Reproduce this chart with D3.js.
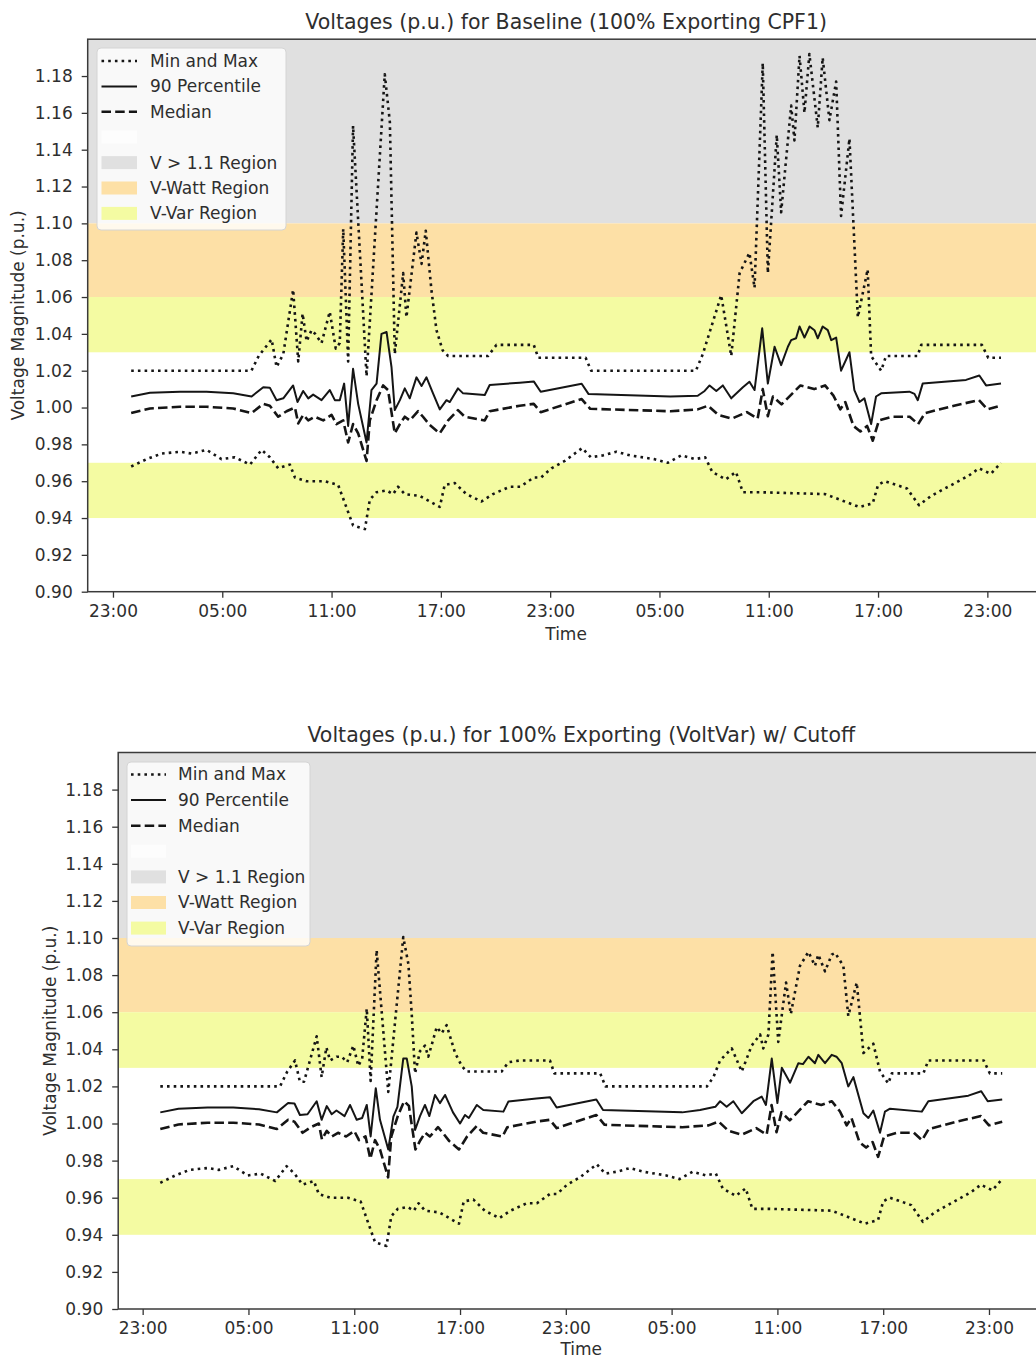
<!DOCTYPE html>
<html>
<head>
<meta charset="utf-8">
<script src="https://cdn.jsdelivr.net/npm/d3@7"></script>
<style>
  body { margin: 0; background: #fff; }
  svg { display: block; }
</style>
</head>
<body>
<svg id="chart"></svg>
<script>
// hours since midnight of day 1, voltage (p.u.)
const minV = [
  [0, 0.968], [0.85, 0.972], [1.67, 0.975], [2.68, 0.976], [3.32, 0.975], [4.14, 0.977],
  [4.96, 0.972], [5.69, 0.973], [6.52, 0.969], [7.16, 0.977], [7.61, 0.973], [8.07, 0.967],
  [8.71, 0.969], [8.99, 0.962], [9.63, 0.960], [10.63, 0.960], [11.36, 0.958], [12.18, 0.936],
  [12.83, 0.934], [13.1, 0.950], [13.47, 0.954], [14.02, 0.955], [14.38, 0.953], [14.65, 0.957],
  [15.02, 0.953], [15.84, 0.952], [16.94, 0.946], [17.21, 0.958], [17.76, 0.959], [18.4, 0.953],
  [19.23, 0.949], [19.86, 0.953], [20.78, 0.957], [21.36, 0.957], [22.1, 0.962], [22.5, 0.962],
  [23.07, 0.967], [23.8, 0.971], [24.76, 0.978], [25.23, 0.973], [25.89, 0.974], [26.64, 0.976],
  [27.39, 0.974], [28.7, 0.972], [29.45, 0.970], [30.2, 0.974], [30.95, 0.972], [31.51, 0.973],
  [31.9, 0.965], [32.64, 0.961], [33.2, 0.965], [33.58, 0.954], [34.52, 0.954], [38.09, 0.953],
  [39.97, 0.946], [40.71, 0.948], [41.0, 0.958], [41.37, 0.960], [42.0, 0.958], [42.59, 0.956],
  [43.25, 0.947], [43.91, 0.952], [44.85, 0.957], [45.98, 0.963], [46.54, 0.967], [47.19, 0.964],
  [47.75, 0.970]
];

const medianV = [
  [0, 0.997], [1.03, 0.9995], [2.68, 1.0004], [4.14, 1.0004], [5.6, 0.9995], [6.61, 0.997],
  [7.25, 1.002], [7.61, 1.001], [8.07, 0.995], [8.53, 0.998], [8.99, 1.000], [9.17, 0.9914],
  [9.44, 0.996], [9.72, 0.993], [10.08, 0.995], [10.54, 0.993], [11.0, 0.996], [11.27, 0.991],
  [11.64, 0.993], [11.91, 0.981], [12.18, 0.991], [12.46, 0.986], [12.92, 0.971], [13.1, 0.993],
  [13.47, 1.004], [13.83, 1.012], [14.1, 1.0095], [14.47, 0.986], [14.75, 0.991], [15.02, 0.995],
  [15.29, 0.993], [15.75, 0.998], [16.02, 0.995], [16.39, 0.9905], [16.94, 0.986], [17.4, 0.993],
  [17.94, 0.9986], [18.31, 0.995], [19.41, 0.993], [19.68, 0.998], [21.33, 1.001], [22.1, 1.002],
  [22.48, 0.9975], [24.73, 1.0046], [25.2, 0.9993], [29.6, 0.998], [31.1, 0.999], [31.67, 1.001],
  [32.23, 0.996], [32.98, 0.994], [33.8, 0.9975], [34.39, 0.994], [34.67, 1.010], [34.95, 0.9953],
  [35.23, 1.006], [35.7, 1.0017], [36.74, 1.012], [37.49, 1.010], [38.09, 1.012], [38.55, 1.0065],
  [38.93, 0.999], [39.2, 1.003], [39.65, 0.990], [40.03, 0.987], [40.4, 0.990], [40.71, 0.982],
  [41.05, 0.993], [41.8, 0.995], [42.74, 0.995], [43.2, 0.991], [43.58, 0.997], [45.17, 1.001],
  [46.54, 1.004], [47.0, 0.999], [47.75, 1.001]
];

const p90Baseline = [
  [0, 1.006], [1.03, 1.008], [2.68, 1.0086], [4.14, 1.0086], [5.6, 1.0077], [6.61, 1.006],
  [7.25, 1.011], [7.61, 1.0108], [7.98, 1.004], [8.35, 1.005], [8.89, 1.012], [9.13, 1.003],
  [9.44, 1.009], [9.72, 1.005], [9.99, 1.007], [10.45, 1.004], [10.9, 1.0095], [11.18, 1.004],
  [11.45, 1.004], [11.69, 1.013], [11.91, 0.990], [12.18, 1.021], [12.46, 1.002], [12.92, 0.981],
  [13.19, 1.0095], [13.47, 1.013], [13.74, 1.040], [14.02, 1.041], [14.29, 1.022], [14.47, 0.9986],
  [14.75, 1.004], [15.02, 1.0104], [15.29, 1.005], [15.66, 1.0164], [15.94, 1.0117], [16.21, 1.0164],
  [16.57, 1.0077], [16.94, 0.999], [17.31, 1.004], [17.49, 1.003], [17.94, 1.0104], [18.22, 1.0077],
  [19.41, 1.0068], [19.68, 1.0122], [21.33, 1.0135], [22.1, 1.0142], [22.48, 1.0086], [24.73, 1.0129],
  [25.11, 1.0073], [29.6, 1.006], [31.1, 1.0064], [31.48, 1.009], [31.75, 1.012], [32.12, 1.009],
  [32.48, 1.012], [32.94, 1.005], [33.58, 1.011], [33.94, 1.014], [34.22, 1.0095], [34.64, 1.043],
  [34.95, 1.013], [35.32, 1.033], [35.68, 1.023], [36.05, 1.033], [36.23, 1.0366], [36.5, 1.0376],
  [36.69, 1.044], [36.96, 1.038], [37.24, 1.044], [37.51, 1.042], [37.69, 1.0376], [37.96, 1.044],
  [38.24, 1.042], [38.43, 1.0366], [38.7, 1.038], [38.97, 1.020], [39.43, 1.030], [39.7, 1.0095],
  [39.98, 1.003], [40.25, 1.005], [40.62, 0.991], [40.89, 1.006], [41.17, 1.0077], [42.72, 1.0086],
  [43.0, 1.0074], [43.18, 1.004], [43.45, 1.013], [45.83, 1.015], [46.56, 1.0174], [46.93, 1.012],
  [47.75, 1.013]
];

const p90Cutoff = [
  [0, 1.006], [1.03, 1.008], [2.68, 1.0086], [4.14, 1.0086], [5.6, 1.0077], [6.61, 1.006],
  [7.25, 1.011], [7.61, 1.0108], [7.92, 1.0046], [8.35, 1.005], [8.87, 1.012], [9.15, 1.002],
  [9.44, 1.0094], [9.72, 1.005], [9.99, 1.007], [10.45, 1.004], [10.76, 1.010], [11.14, 1.002],
  [11.45, 1.003], [11.71, 1.010], [11.93, 0.993], [12.22, 1.019], [12.46, 1.002], [12.93, 0.986],
  [13.22, 1.0037], [13.45, 1.009], [13.78, 1.035], [13.98, 1.035], [14.26, 1.020], [14.45, 0.9965],
  [14.73, 1.004], [15.01, 1.010], [15.26, 1.004], [15.58, 1.0154], [15.86, 1.011], [16.15, 1.0154],
  [16.6, 1.006], [17.0, 1.000], [17.28, 1.0046], [17.5, 1.003], [17.95, 1.010], [18.32, 1.0073],
  [19.46, 1.0064], [19.74, 1.0118], [21.33, 1.0135], [22.1, 1.0142], [22.48, 1.0086], [24.73, 1.0129],
  [25.11, 1.0073], [29.6, 1.006], [30.61, 1.0073], [31.48, 1.009], [31.75, 1.012], [32.12, 1.009],
  [32.5, 1.012], [32.98, 1.0055], [33.64, 1.012], [34.11, 1.0145], [34.35, 1.010], [34.68, 1.035],
  [35.0, 1.011], [35.25, 1.030], [35.72, 1.022], [36.19, 1.0325], [36.45, 1.032], [36.76, 1.036],
  [37.13, 1.0325], [37.32, 1.037], [37.7, 1.0325], [38.08, 1.037], [38.35, 1.036], [38.65, 1.0325],
  [39.02, 1.020], [39.31, 1.025], [39.88, 1.0055], [40.16, 1.003], [40.44, 1.007], [40.82, 0.995],
  [41.1, 1.0064], [41.39, 1.008], [43.19, 1.0064], [43.56, 1.012], [45.83, 1.015], [46.56, 1.0174],
  [46.93, 1.012], [47.75, 1.013]
];

const maxBaseline = [
  [0, 1.020], [6.6, 1.020], [7.0, 1.028], [7.71, 1.037], [7.98, 1.022], [8.35, 1.029],
  [8.89, 1.064], [9.17, 1.025], [9.41, 1.051], [9.63, 1.036], [9.9, 1.042], [10.1, 1.040],
  [10.45, 1.035], [10.9, 1.052], [11.23, 1.032], [11.45, 1.035], [11.64, 1.097], [11.91, 1.025],
  [12.18, 1.153], [12.92, 1.017], [13.92, 1.181], [14.2, 1.155], [14.47, 1.029], [14.93, 1.073],
  [15.11, 1.049], [15.66, 1.095], [15.94, 1.078], [16.17, 1.096], [16.48, 1.064], [16.76, 1.042],
  [17.1, 1.031], [17.4, 1.028], [19.59, 1.028], [20.05, 1.034], [22.1, 1.034], [22.35, 1.027],
  [24.95, 1.027], [25.25, 1.020], [31.0, 1.020], [31.38, 1.029], [32.39, 1.061], [32.94, 1.028],
  [33.4, 1.073], [33.94, 1.084], [34.22, 1.065], [34.67, 1.187], [34.95, 1.073], [35.44, 1.148],
  [35.68, 1.106], [36.23, 1.164], [36.41, 1.145], [36.69, 1.191], [36.96, 1.160], [37.23, 1.192],
  [37.69, 1.152], [37.96, 1.190], [38.33, 1.156], [38.7, 1.177], [38.97, 1.104], [39.43, 1.146],
  [39.89, 1.049], [40.43, 1.075], [40.62, 1.028], [41.17, 1.020], [41.44, 1.028], [43.17, 1.028],
  [43.37, 1.034], [46.7, 1.034], [47.05, 1.027], [47.75, 1.027]
];

const maxCutoff = [
  [0, 1.020], [6.79, 1.020], [7.2, 1.028], [7.64, 1.034], [7.92, 1.0225], [8.15, 1.0225],
  [8.87, 1.047], [9.15, 1.025], [9.42, 1.041], [9.63, 1.034], [10.0, 1.036], [10.29, 1.036],
  [10.6, 1.033], [10.95, 1.042], [11.23, 1.031], [11.45, 1.035], [11.71, 1.062], [11.93, 1.023],
  [12.27, 1.0935], [12.93, 1.017], [13.78, 1.1005], [14.07, 1.086], [14.26, 1.059], [14.45, 1.027],
  [14.73, 1.039], [15.01, 1.042], [15.2, 1.036], [15.68, 1.052], [15.96, 1.0486], [16.24, 1.053],
  [16.72, 1.038], [17.1, 1.031], [17.38, 1.028], [19.36, 1.028], [19.74, 1.033], [20.4, 1.034],
  [22.1, 1.034], [22.35, 1.027], [24.95, 1.027], [25.25, 1.020], [31.0, 1.020], [31.37, 1.025],
  [31.75, 1.034], [32.41, 1.0405], [32.98, 1.028], [33.54, 1.042], [34.02, 1.048], [34.2, 1.0405],
  [34.49, 1.048], [34.73, 1.0925], [35.05, 1.044], [35.49, 1.076], [35.76, 1.059], [36.28, 1.085],
  [36.76, 1.0925], [37.13, 1.085], [37.32, 1.091], [37.7, 1.082], [38.08, 1.091], [38.27, 1.092],
  [38.74, 1.085], [39.02, 1.058], [39.5, 1.076], [39.88, 1.038], [40.44, 1.043], [40.82, 1.028],
  [41.29, 1.0216], [41.49, 1.027], [43.28, 1.027], [43.56, 1.034], [46.7, 1.034], [47.05, 1.027],
  [47.75, 1.027]
];

// voltage regions (p.u.)
const regionNames = ["V > 1.1 Region", "V-Watt Region", "V-Var Region", "V-Var Region"];
const regionLow = [1.10, 1.06, 1.03, 0.94];
const regionHigh = [1.20, 1.10, 1.06, 0.97];

const yTickValues = d3.range(0, 15).map((i) => +(0.90 + i * 0.02).toFixed(2));
const xTickHours = [-1, 5, 11, 17, 23, 29, 35, 41, 47]; // 23:00, 05:00, ... 23:00
const titles = [
  "Voltages (p.u.) for Baseline (100% Exporting CPF1)",
  "Voltages (p.u.) for 100% Exporting (VoltVar) w/ Cutoff",
];
const legendLabels = ["Min and Max", "90 Percentile", "Median", "", "V > 1.1 Region", "V-Watt Region", "V-Var Region"];

const W = 1036, H = 1360;
const FONT = "DejaVu Sans, Verdana, sans-serif";
const TEXT = "#2e2e2e";
const dayStart = new Date(2019, 5, 1, 0, 0);
const toDate = (h) => new Date(dayStart.getTime() + h * 3600e3);
const lastHour = 47.75;
const xPad = lastHour * 0.05; // matplotlib-style 5% margin

const regionColor = {
  "V > 1.1 Region": "#e0e0e0",
  "V-Watt Region": "#fde0a6",
  "V-Var Region": "#f4fba2",
};
const lineStyle = {
  minmax: { width: 2.6, dash: "2.6,4.1" },
  p90: { width: 2, dash: null },
  median: { width: 2.6, dash: "9.5,4.2" },
};

const svg = d3.select("#chart").attr("width", W).attr("height", H).attr("viewBox", [0, 0, W, H]);

const panels = [
  {
    title: titles[0], max: maxBaseline, p90: p90Baseline,
    left: 87.7, right: 1044.5, top: 39.2, bottom: 591.7,
    titleY: 29, timeY: 640, ylabelX: 18,
    legend: { x: 97, y: 48, w: 189, h: 182, row0: 61, step: 25.4, h0: 4.5, h1: 40, tx: 53 },
  },
  {
    title: titles[1], max: maxCutoff, p90: p90Cutoff,
    left: 118.2, right: 1044.3, top: 752.5, bottom: 1309,
    titleY: 742, timeY: 1355, ylabelX: 50,
    legend: { x: 127, y: 762, w: 183, h: 184, row0: 774.5, step: 25.6, h0: 4, h1: 39, tx: 51 },
  },
];

panels.forEach((p, i) => {
  const g = svg.append("g").attr("id", `panel-${i}`);

  const x = d3.scaleTime()
    .domain([toDate(-xPad), toDate(lastHour + xPad)])
    .range([p.left, p.right]);
  const y = d3.scaleLinear().domain([0.9, 1.2]).range([p.bottom, p.top]);

  const clipId = `clip-${i}`;
  g.append("clipPath").attr("id", clipId)
    .append("rect")
    .attr("x", p.left).attr("y", p.top)
    .attr("width", p.right - p.left).attr("height", p.bottom - p.top);

  const plot = g.append("g").attr("clip-path", `url(#${clipId})`);

  // shaded regions
  plot.selectAll("rect.region")
    .data(regionNames.map((name, k) => ({ name, lo: regionLow[k], hi: regionHigh[k] })))
    .enter()
    .append("rect")
    .attr("class", "region")
    .attr("x", p.left)
    .attr("width", p.right - p.left)
    .attr("y", (d) => y(d.hi))
    .attr("height", (d) => y(d.lo) - y(d.hi))
    .attr("fill", (d) => regionColor[d.name]);

  const line = d3.line()
    .x((d) => x(toDate(d[0])))
    .y((d) => y(d[1]));

  const series = [
    { data: p.max, style: lineStyle.minmax },
    { data: minV, style: lineStyle.minmax },
    { data: p.p90, style: lineStyle.p90 },
    { data: medianV, style: lineStyle.median },
  ];
  series.forEach((s) => {
    plot.append("path")
      .attr("d", line(s.data))
      .attr("fill", "none")
      .attr("stroke", "#151515")
      .attr("stroke-width", s.style.width)
      .attr("stroke-dasharray", s.style.dash)
      .attr("stroke-linejoin", "round");
  });

  // axes
  g.append("g")
    .attr("transform", `translate(${p.left},0)`)
    .call(d3.axisLeft(y).tickValues(yTickValues).tickSize(6).tickPadding(9).tickFormat(d3.format(".2f")))
    .call((a) => {
      a.select("path.domain").remove();
      a.selectAll(".tick line").attr("stroke", "#333").attr("stroke-width", 1.3);
      a.selectAll(".tick text").attr("font-size", 17).attr("font-family", FONT).attr("fill", TEXT);
    });

  g.append("g")
    .attr("transform", `translate(0,${p.bottom})`)
    .call(d3.axisBottom(x).tickValues(xTickHours.map(toDate)).tickSize(6).tickPadding(7)
      .tickFormat(d3.timeFormat("%H:%M")))
    .call((a) => {
      a.select("path.domain").remove();
      a.selectAll(".tick line").attr("stroke", "#333").attr("stroke-width", 1.3);
      a.selectAll(".tick text").attr("font-size", 17).attr("font-family", FONT).attr("fill", TEXT);
    });

  // frame (spines)
  g.append("rect")
    .attr("x", p.left).attr("y", p.top)
    .attr("width", p.right - p.left).attr("height", p.bottom - p.top)
    .attr("fill", "none")
    .attr("stroke", "#3a3a3a")
    .attr("stroke-width", 1.5);

  // titles & labels
  g.append("text")
    .attr("x", (p.left + p.right) / 2).attr("y", p.titleY)
    .attr("text-anchor", "middle")
    .attr("font-size", 20.5).attr("font-family", FONT).attr("fill", TEXT)
    .text(p.title);

  g.append("text")
    .attr("x", (p.left + p.right) / 2).attr("y", p.timeY)
    .attr("text-anchor", "middle")
    .attr("font-size", 17).attr("font-family", FONT).attr("fill", TEXT)
    .text("Time");

  g.append("text")
    .attr("transform", `translate(${p.ylabelX},${(p.top + p.bottom) / 2}) rotate(-90)`)
    .attr("dy", "0.35em")
    .attr("text-anchor", "middle")
    .attr("font-size", 17).attr("font-family", FONT).attr("fill", TEXT)
    .text("Voltage Magnitude (p.u.)");

  // legend
  const L = p.legend;
  const leg = g.append("g").attr("class", "legend");
  leg.append("rect")
    .attr("x", L.x).attr("y", L.y).attr("width", L.w).attr("height", L.h)
    .attr("rx", 4)
    .attr("fill", "rgba(255,255,255,0.8)")
    .attr("stroke", "#d4d4d4");

  const handles = [
    { kind: "line", style: lineStyle.minmax },
    { kind: "line", style: lineStyle.p90 },
    { kind: "line", style: lineStyle.median },
    { kind: "patch", color: "#fdfdfd" },
    { kind: "patch", color: regionColor["V > 1.1 Region"] },
    { kind: "patch", color: regionColor["V-Watt Region"] },
    { kind: "patch", color: regionColor["V-Var Region"] },
  ];

  legendLabels.forEach((label, k) => {
    const cy = L.row0 + k * L.step;
    const h = handles[k];
    if (h.kind === "line") {
      leg.append("line")
        .attr("x1", L.x + L.h0).attr("x2", L.x + L.h1)
        .attr("y1", cy).attr("y2", cy)
        .attr("stroke", "#151515")
        .attr("stroke-width", h.style.width)
        .attr("stroke-dasharray", h.style.dash);
    } else {
      leg.append("rect")
        .attr("x", L.x + L.h0).attr("y", cy - 6.5)
        .attr("width", L.h1 - L.h0).attr("height", 13)
        .attr("fill", h.color);
    }
    leg.append("text")
      .attr("x", L.x + L.tx).attr("y", cy)
      .attr("dy", "0.35em")
      .attr("font-size", 17).attr("font-family", FONT).attr("fill", TEXT)
      .text(label);
  });
});
</script>
</body>
</html>
